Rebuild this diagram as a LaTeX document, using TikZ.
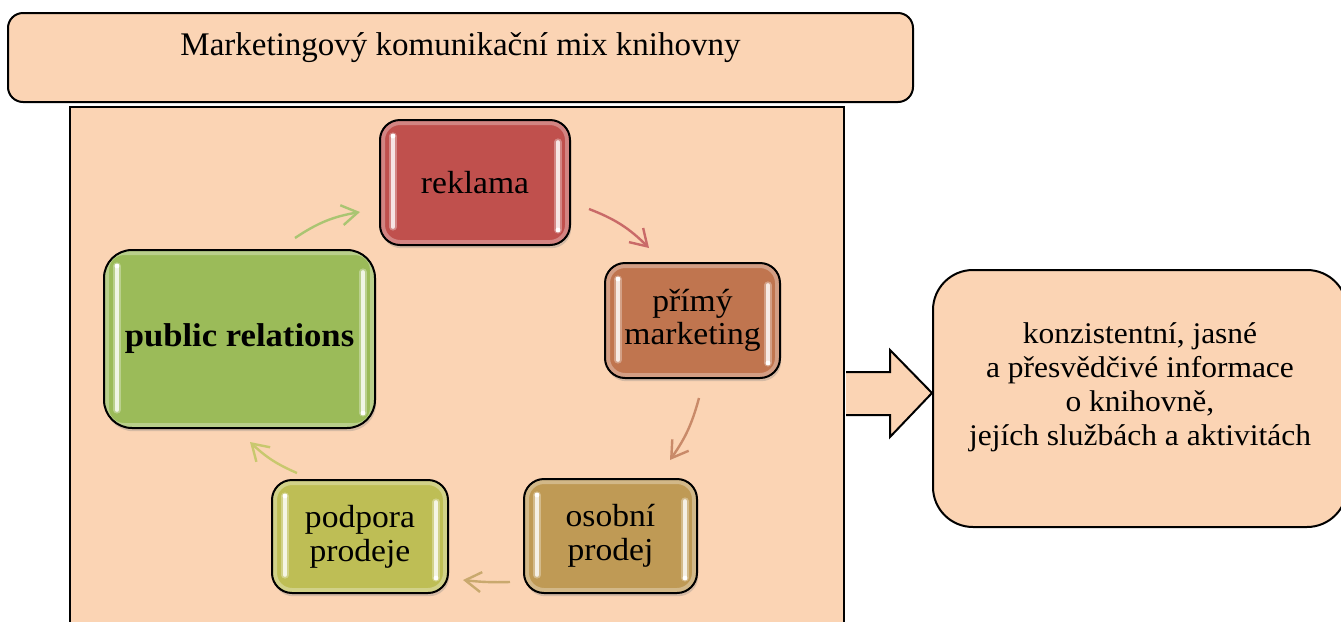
\documentclass[tikz,border=0pt]{standalone}
\usepackage{fontspec}
\setmainfont{Liberation Serif}
\newfontfamily\widefont{Liberation Serif}[FakeStretch=1.05]
\usetikzlibrary{shadows,arrows.meta,calc}

\definecolor{peach}{HTML}{FBD4B4}
\definecolor{cRed}{HTML}{C0504D}
\definecolor{cOrange}{HTML}{C0754F}
\definecolor{cGold}{HTML}{BF9A55}
\definecolor{cOlive}{HTML}{BEBE55}
\definecolor{cGreen}{HTML}{9BBB59}

\begin{document}
\begin{tikzpicture}[x=0.5pt,y=-0.5pt,
  framebox/.style={draw=black, line width=1pt, fill=peach},
  boxfont/.style={font=\widefont\fontsize{16}{16.8}\selectfont},
  glossy/.style={draw=black, line width=1pt, fill=#1, rounded corners=10pt,
    align=center, boxfont, inner sep=0pt,
    drop shadow={shadow xshift=0.6pt, shadow yshift=-1.6pt, opacity=0.3},
    path picture={
      % soft light rim just inside the border
      \draw[white, opacity=0.3, line width=5pt, rounded corners=10pt]
        (path picture bounding box.south west) rectangle (path picture bounding box.north east);
      % glossy vertical highlights
      \draw[#1!30!white, opacity=0.45, line width=3.6pt, line cap=round]
        ([shift={(13,16)}]path picture bounding box.north west) --
        ([shift={(13,-18)}]path picture bounding box.south west);
      \draw[#1!30!white, opacity=0.45, line width=3.6pt, line cap=round]
        ([shift={(-12,22)}]path picture bounding box.north east) --
        ([shift={(-12,-15)}]path picture bounding box.south east);
      \draw[#1!15!white, line width=1.8pt, line cap=round]
        ([shift={(13,16)}]path picture bounding box.north west) --
        ([shift={(13,-18)}]path picture bounding box.south west);
      \draw[#1!15!white, line width=1.8pt, line cap=round]
        ([shift={(-12,22)}]path picture bounding box.north east) --
        ([shift={(-12,-15)}]path picture bounding box.south east);
      \fill[white] ([shift={(13,16)}]path picture bounding box.north west) circle (1.2pt);
      \fill[white] ([shift={(-12,-15)}]path picture bounding box.south east) circle (1.2pt);
    }},
  cyc/.style={draw=#1, line width=1.2pt, -{Straight Barb[length=8pt,width=10pt]}},
]
\useasboundingbox (0,0) rectangle (1341,622);
\fill[white] (0,0) rectangle (1341,622);
\clip (0,0) rectangle (1341,622);

% heading
\node[framebox, rounded corners=7.5pt, minimum width=452.5pt, minimum height=44.5pt,
  label={[yshift=5pt, font=\fontsize{16.5}{20}\selectfont]center:Marketingový komunikační mix knihovny}]
  (title) at (460.5,57.5) {};

% panel holding the cycle
\node[framebox, minimum width=387pt, minimum height=280pt, anchor=north west, inner sep=0pt]
  (panel) at (69,106) {};

% result box
\node[framebox, rounded corners=20pt, minimum width=207pt, minimum height=128.5pt,
  label={[yshift=5.5pt, align=center, font=\widefont\fontsize{15}{17}\selectfont]center:konzistentní, jasné\\a přesvědčivé informace\\o knihovně,\\jejích službách a aktivitách}]
  (info) at (1140,398.5) {};

% block arrow from the panel to the result box
\coordinate (tip) at ([yshift=2.75pt]info.west);
\coordinate (base) at (panel.east |- tip);
\draw[framebox, line join=miter]
  ($(base)+(1,-21)$) -- ($(tip)+(-42,-21)$) -- ($(tip)+(-42,-43)$) -- (tip)
  -- ($(tip)+(-42,44)$) -- ($(tip)+(-42,22)$) -- ($(base)+(1,22)$);

% the five tools
\node[glossy=cRed, minimum width=95pt, minimum height=62.5pt] (rek) at (475,182.5) {reklama};
\node[glossy=cOrange, minimum width=87.5pt, minimum height=57.5pt] (pm) at (692.5,320.5) {přímý\\marketing};
\node[glossy=cGold, minimum width=86.5pt, minimum height=57pt] (op) at (610.5,536) {osobní\\prodej};
\node[glossy=cOlive, minimum width=88pt, minimum height=56.5pt] (pp) at (360,536.5) {podpora\\prodeje};
\node[glossy=cGreen, minimum width=135.5pt, minimum height=89pt, rounded corners=14pt,
  font=\widefont\bfseries\fontsize{16.5}{17}\selectfont] (pr) at (239.5,339) {public relations};

% cycle arrows
\coordinate (a1s) at (295,238); \coordinate (a1e) at (360,212);
\coordinate (a2s) at (589,209); \coordinate (a2e) at (649,248);
\coordinate (a3s) at (699,398); \coordinate (a3e) at (670,460);
\coordinate (a4s) at (510,582); \coordinate (a4e) at (463,580);
\coordinate (a5s) at (297,473); \coordinate (a5e) at (250,442);
\draw[cyc=cGreen!85!white] (a1s) to[bend left=12] (a1e);
\draw[cyc=cRed!85!white] (a2s) to[bend left=12] (a2e);
\draw[cyc=cOrange!85!white] (a3s) to[bend left=10] (a3e);
\draw[cyc=cGold!85!white] (a4s) to[bend left=4] (a4e);
\draw[cyc=cOlive!85!white] (a5s) to[bend left=10] (a5e);
\end{tikzpicture}
\end{document}
